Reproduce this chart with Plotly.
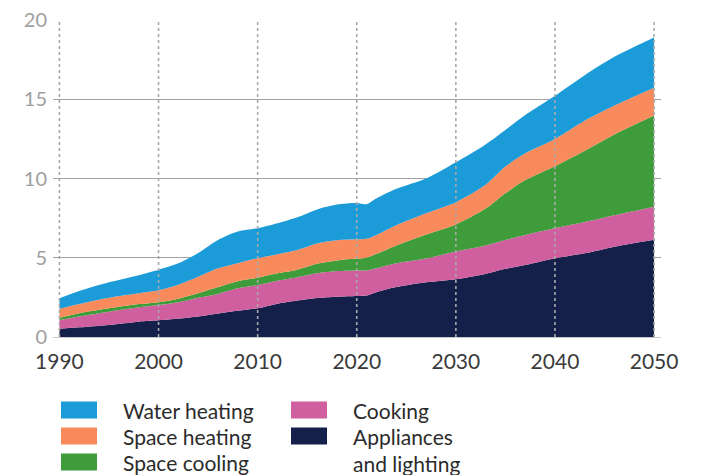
import plotly.graph_objects as go

years = [1990, 1992, 1995, 1998, 2000, 2002, 2004, 2006, 2008, 2010, 2012, 2014, 2016, 2018,
         2020, 2021, 2022, 2024, 2027, 2030, 2033, 2035, 2037, 2040, 2043, 2046, 2050]

appliances = [0.52, 0.61, 0.76, 0.97, 1.05, 1.16, 1.30, 1.49, 1.66, 1.81, 2.10, 2.30, 2.46, 2.54,
              2.59, 2.62, 2.83, 3.15, 3.45, 3.65, 3.98, 4.30, 4.54, 4.97, 5.28, 5.70, 6.14]
cooking = [0.55, 0.69, 0.84, 0.90, 0.97, 1.04, 1.18, 1.23, 1.41, 1.47, 1.45, 1.47, 1.56, 1.62,
           1.61, 1.58, 1.50, 1.50, 1.50, 1.75, 1.80, 1.82, 1.90, 1.89, 1.97, 1.98, 2.08]
space_cooling = [0.13, 0.20, 0.21, 0.21, 0.18, 0.22, 0.28, 0.43, 0.45, 0.46, 0.47, 0.48, 0.60, 0.67,
                 0.75, 0.82, 0.92, 1.13, 1.52, 1.70, 2.32, 2.95, 3.46, 3.92, 4.50, 5.10, 5.75]
space_heating = [0.58, 0.58, 0.67, 0.68, 0.75, 0.88, 1.04, 1.18, 1.13, 1.23, 1.20, 1.24, 1.28, 1.27,
                 1.21, 1.18, 1.19, 1.27, 1.33, 1.40, 1.50, 1.68, 1.69, 1.72, 1.90, 1.82, 1.75]
water_heating = [0.66, 0.82, 0.97, 1.14, 1.30, 1.35, 1.50, 1.79, 2.00, 1.89, 1.95, 2.06, 2.15, 2.26,
                 2.29, 2.18, 2.31, 2.30, 2.20, 2.52, 2.55, 2.31, 2.41, 2.72, 2.87, 3.08, 3.18]

x_ticks = [1990, 2000, 2010, 2020, 2030, 2040, 2050]
y_ticks = [0, 5, 10, 15, 20]

series = [
    ("Appliances<br>and lighting", appliances, "#14204a"),
    ("Cooking", cooking, "#cf5f9f"),
    ("Space cooling", space_cooling, "#3f9c3a"),
    ("Space heating", space_heating, "#f98a5c"),
    ("Water heating", water_heating, "#1b9bd8"),
]

W, H = 717, 475
ML, MR, MT, MB = 53, 56, 20, 138
PW, PH = W - ML - MR, H - MT - MB

fig = go.Figure()
for name, vals, col in series:
    fig.add_trace(go.Scatter(
        x=years, y=vals, name=name, stackgroup="one", mode="lines",
        line=dict(width=0, shape="spline", smoothing=0.8, color=col),
        fillcolor=col, hoverinfo="x+y+name", showlegend=False))

# dotted vertical gridlines drawn above the areas
shapes = []
for xt in x_ticks:
    shapes.append(dict(type="line", xref="x", yref="paper", x0=xt, x1=xt, y0=0, y1=0.995,
                       line=dict(color="#a9a9a9", width=1.6, dash="dot"), layer="above"))

# manual legend (pixel positions converted to paper coordinates)
def px(xp):
    return (xp - ML) / PW

def py(yp):
    return (H - MB - yp) / PH

legend_items = [
    ("Water heating", "#1b9bd8", 61, 410),
    ("Space heating", "#f98a5c", 61, 436),
    ("Space cooling", "#3f9c3a", 61, 462),
    ("Cooking", "#cf5f9f", 291, 410),
    ("Appliances<br>and lighting", "#14204a", 291, 436),
]
annotations = []
for label, col, sx, sy in legend_items:
    shapes.append(dict(type="rect", xref="paper", yref="paper",
                       x0=px(sx), x1=px(sx + 36), y0=py(sy - 8.5), y1=py(sy + 8.5),
                       fillcolor=col, line=dict(width=0), layer="above"))
    annotations.append(dict(xref="paper", yref="paper", x=px(sx + 61), y=py(sy - 13),
                            text=label, showarrow=False, xanchor="left", yanchor="top",
                            align="left", borderpad=0,
                            font=dict(family="Lato", size=21, color="#2b2b2b")))

fig.update_layout(
    width=W, height=H,
    margin=dict(l=ML, r=MR, t=MT, b=MB, autoexpand=False),
    paper_bgcolor="white", plot_bgcolor="white",
    font=dict(family="Lato"),
    shapes=shapes, annotations=annotations,
    showlegend=False,
    xaxis=dict(range=[1989.35, 2050.7], tickvals=x_ticks, showgrid=False, zeroline=False,
               showline=False, ticks="outside", ticklen=0, tickcolor="white", automargin=False,
               tickfont=dict(family="Lato", size=21, color="#3a3a3a"), ticklabelstandoff=6),
    yaxis=dict(range=[0, 20], tickvals=y_ticks, showgrid=True, gridcolor="#a3a3a3", gridwidth=1,
               zeroline=True, zerolinecolor="#c8c8c8", zerolinewidth=1, showline=False,
               ticks="outside", ticklen=0, tickcolor="white", automargin=False,
               tickfont=dict(family="Lato", size=20, color="#a0a0a0"), ticklabelstandoff=1),
)

fig.write_html("out.html", config={"displayModeBar": False},
               post_script="document.body.style.margin='0';document.body.style.overflow='hidden';")
